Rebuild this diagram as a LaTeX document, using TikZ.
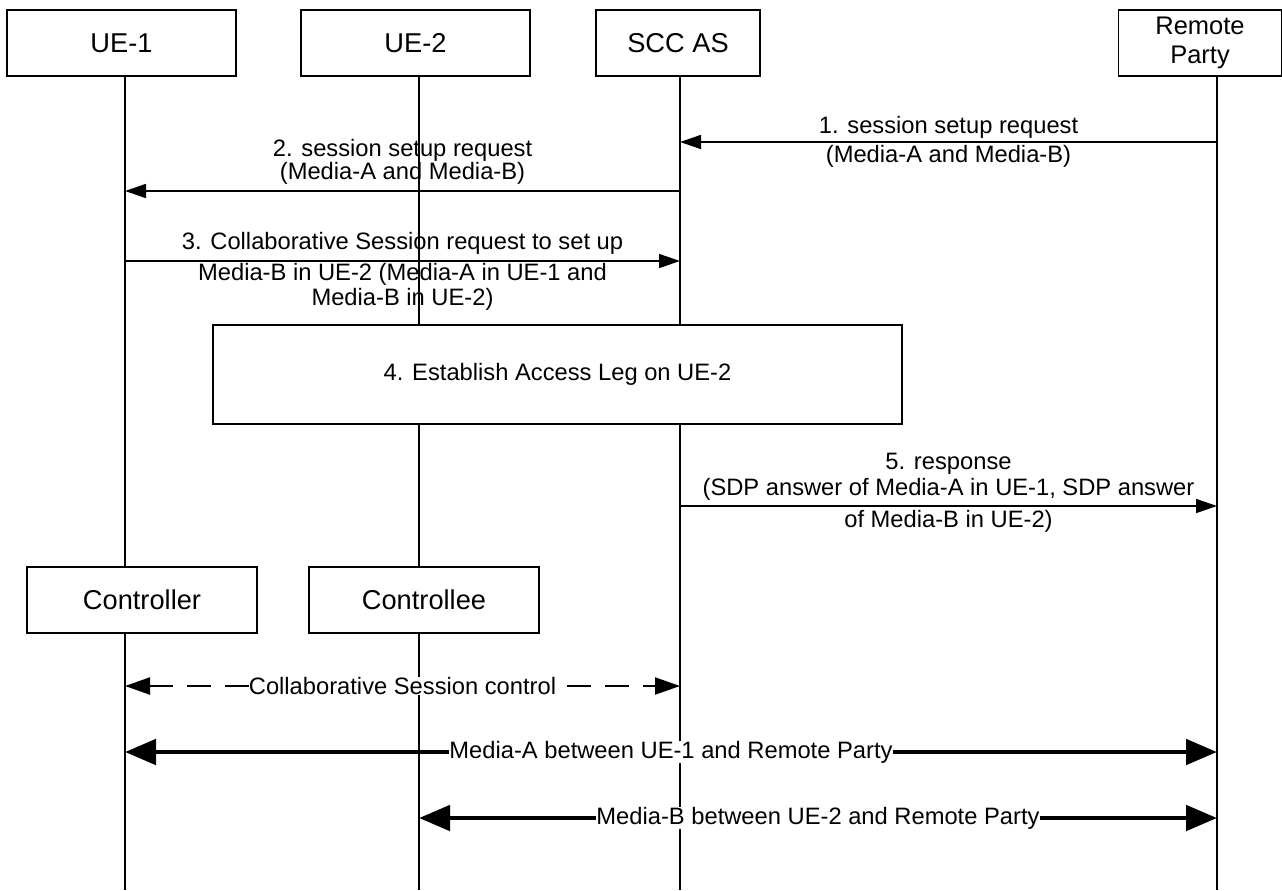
\documentclass[tikz,border=0pt]{standalone}
\usepackage{fontspec}
\setmainfont{Liberation Sans}
\usetikzlibrary{arrows.meta}

\begin{document}
\begin{tikzpicture}[line width=0.6pt,
  ent/.style={draw, fill=white, line width=0.8pt, minimum height=1.32cm,
    align=center, font=\fontsize{15.5}{17}\selectfont},
  lbl/.style={align=center, inner sep=1pt, font=\fontsize{13.5}{14.5}\selectfont},
  msg/.style={line width=0.9pt, -{Triangle[length=0.42cm, width=0.28cm]}},
  ctl/.style={line width=1.2pt, dash pattern=on 0.48cm off 0.28cm,
    {Triangle[length=0.5cm, width=0.34cm]}-{Triangle[length=0.5cm, width=0.34cm]}},
  med/.style={line width=2.8pt,
    {Triangle[length=0.62cm, width=0.5cm]}-{Triangle[length=0.62cm, width=0.5cm]}}]

  \useasboundingbox (0,0) rectangle (25.64,-17.8);

  % entities on top
  \node[ent, minimum width=4.58cm] (ue1) at (2.43,-0.86) {UE-1};
  \node[ent, minimum width=4.58cm] (ue2) at (8.31,-0.86) {UE-2};
  \node[ent, minimum width=3.28cm] (scc) at (13.56,-0.86) {SCC AS};
  \node[ent, minimum width=3.26cm, font=\fontsize{14.5}{16.5}\selectfont]
    (rp) at (24.0,-0.86) {Remote\\Party};

  % lifelines
  \coordinate (bot) at (0,-17.8);
  \coordinate (l1) at (2.5,-1.52);
  \coordinate (l2) at (8.38,-1.52);
  \coordinate (l3) at (13.6,-1.52);
  \coordinate (rpl) at (24.34,-1.52);
  \foreach \n in {l1,l2,l3,rpl}
    \draw (\n) -- (\n |- bot);

  % message levels
  \coordinate (y1) at (0,-2.84);
  \coordinate (y2) at (0,-3.82);
  \coordinate (y3) at (0,-5.22);
  \coordinate (y5) at (0,-10.12);
  \coordinate (yc) at (0,-13.72);
  \coordinate (ya) at (0,-15.04);
  \coordinate (yb) at (0,-16.36);

  % 1. request from the remote party
  \draw[msg] (rpl |- y1) -- (l3 |- y1)
    node[lbl, midway] {1. session setup request\\[2pt](Media-A and Media-B)};

  % 2. request to UE-1
  \draw[msg] (l3 |- y2) -- (l1 |- y2)
    node[lbl, midway, above=0.08cm] {2. session setup request\\[-1.5pt](Media-A and Media-B)};

  % 3. collaborative session request
  \draw[msg] (l1 |- y3) -- (l3 |- y3)
    node[lbl, midway, anchor=north, yshift=0.62cm]
    {3. Collaborative Session request to set up\\[3pt]Media-B in UE-2 (Media-A in UE-1 and\\Media-B in UE-2)};

  % 4. access leg
  \node[draw, fill=white, line width=0.8pt, minimum width=13.78cm, minimum height=1.98cm,
    lbl] (leg) at (11.15,-7.49) {4. Establish Access Leg on UE-2};

  % 5. response
  \draw[msg] (l3 |- y5) -- (rpl |- y5)
    node[lbl, midway, anchor=north, yshift=1.1cm]
    {5. response\\(SDP answer of Media-A in UE-1, SDP answer\\[4pt]of Media-B in UE-2)};

  % controller and controllee
  \node[ent, minimum width=4.6cm] (ctr) at (2.84,-12.0) {Controller};
  \node[ent, minimum width=4.6cm] (cte) at (8.48,-12.0) {Controllee};

  % collaborative session control
  \draw[ctl] (l1 |- yc) -- (l3 |- yc)
    node[lbl, midway, fill=white, inner sep=0pt] {Collaborative Session control};

  % media flows
  \draw[med] (l1 |- ya) -- (rpl |- ya)
    node[lbl, midway, fill=white, inner sep=0pt] {Media-A between UE-1 and Remote Party};
  \draw[med] (l2 |- yb) -- (rpl |- yb)
    node[lbl, midway, fill=white, inner sep=0pt] {Media-B between UE-2 and Remote Party};

\end{tikzpicture}
\end{document}
